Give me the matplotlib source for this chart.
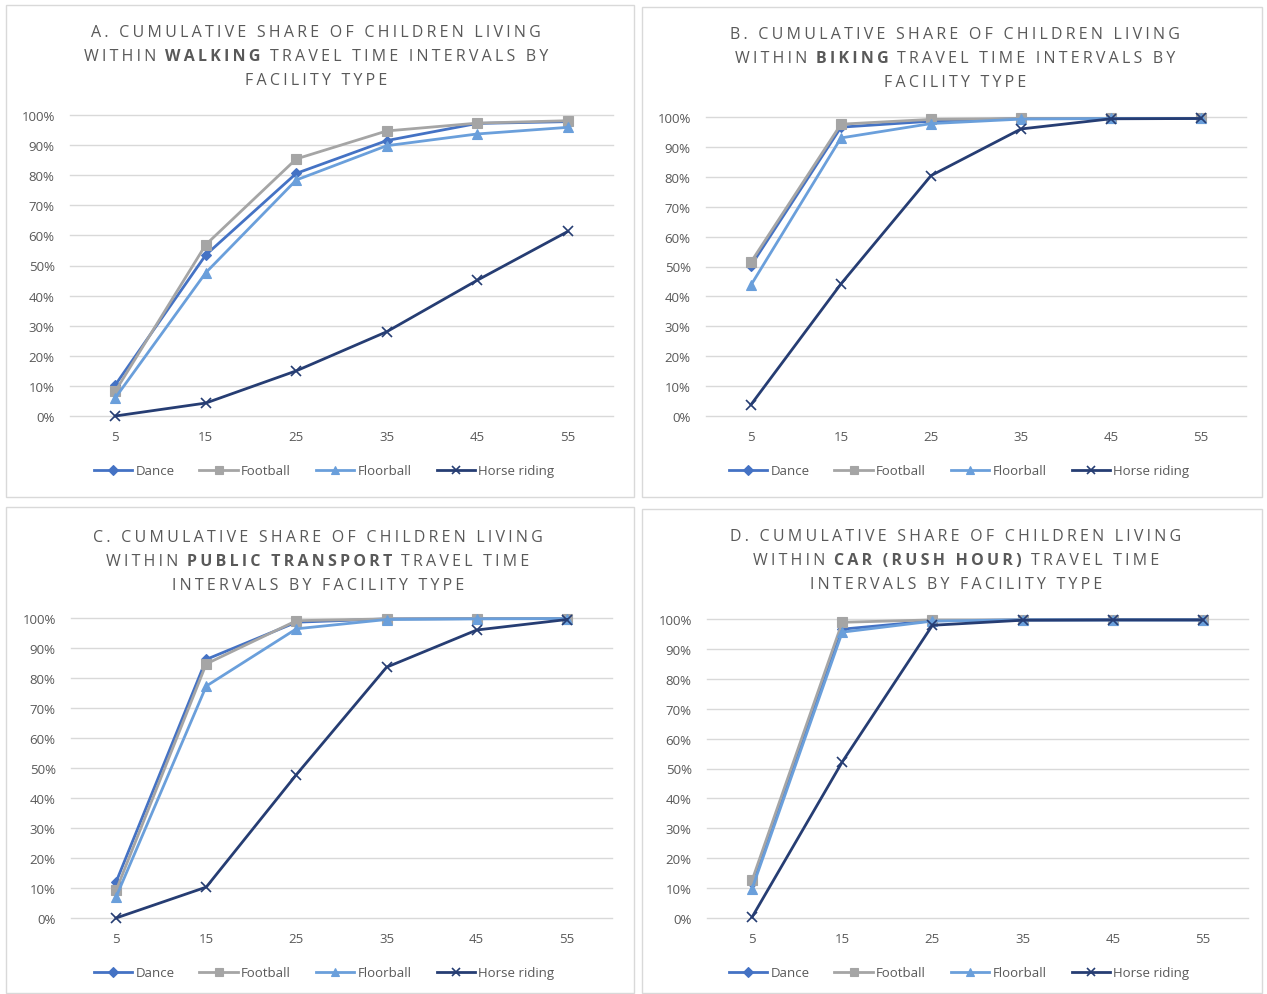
import matplotlib
matplotlib.use("Agg")
import matplotlib.pyplot as plt
from matplotlib.patches import Rectangle
from matplotlib.offsetbox import TextArea, HPacker, DrawingArea, AnchoredOffsetbox

# ---- data -----------------------------------------------------------------
travel_time = ["5", "15", "25", "35", "45", "55"]
series_names = ["Dance", "Football", "Floorball", "Horse riding"]

walk_dance = [10.3, 53.5, 80.6, 91.5, 97.2, 97.8]
walk_football = [8.2, 56.9, 85.4, 94.7, 97.3, 98.1]
walk_floorball = [6.0, 47.6, 78.4, 89.8, 93.7, 95.9]
walk_horse = [0.0, 4.3, 15.0, 28.0, 45.1, 61.3]

bike_dance = [50.3, 96.6, 98.6, 99.5, 99.5, 99.5]
bike_football = [51.5, 97.6, 99.2, 99.5, 99.5, 99.5]
bike_floorball = [43.8, 93.0, 97.8, 99.3, 99.5, 99.5]
bike_horse = [3.8, 44.2, 80.4, 96.0, 99.4, 99.5]

pt_dance = [12.0, 86.2, 98.6, 99.7, 99.8, 99.8]
pt_football = [9.2, 84.7, 99.1, 99.7, 99.8, 99.8]
pt_floorball = [7.0, 77.3, 96.4, 99.5, 99.7, 99.8]
pt_horse = [0.0, 10.3, 47.8, 83.6, 96.0, 99.5]

car_dance = [11.6, 96.6, 99.4, 99.7, 99.7, 99.7]
car_football = [12.6, 98.9, 99.7, 99.7, 99.7, 99.7]
car_floorball = [9.8, 95.6, 99.3, 99.7, 99.7, 99.7]
car_horse = [0.3, 52.2, 97.9, 99.6, 99.7, 99.7]

y_ticks = [0, 10, 20, 30, 40, 50, 60, 70, 80, 90, 100]

# ---- styling --------------------------------------------------------------
W, H = 1267, 995
FAMILY = ["Open Sans", "DejaVu Sans"]
TEXT_GREY = "#595959"
GRID_GREY = "#D9D9D9"
colors = ["#4472C4", "#A5A5A5", "#6A9FDB", "#263D73"]
markers = ["D", "s", "^", "x"]
msizes = [5.5, 7, 7, 7.5]

plt.rcParams["font.family"] = FAMILY

fig = plt.figure(figsize=(W / 100, H / 100), dpi=100)
fig.patch.set_facecolor("white")


def fx(x):
    return x / W


def fy(y):
    return 1 - y / H


panels = [
    dict(frame=(6, 6, 634, 498), plot=(70, 116, 613, 417),
         title=[("A. CUMULATIVE SHARE OF CHILDREN LIVING", None, None),
                ("WITHIN", "WALKING", "TRAVEL TIME INTERVALS BY"),
                ("FACILITY TYPE", None, None)],
         title_x=316, title_y=33, legend=(324, 472),
         data=[walk_dance, walk_football, walk_floorball, walk_horse]),
    dict(frame=(642, 8, 1262, 498), plot=(706, 118, 1246, 417),
         title=[("B. CUMULATIVE SHARE OF CHILDREN LIVING", None, None),
                ("WITHIN", "BIKING", "TRAVEL TIME INTERVALS BY"),
                ("FACILITY TYPE", None, None)],
         title_x=955, title_y=35, legend=(959, 472),
         data=[bike_dance, bike_football, bike_floorball, bike_horse]),
    dict(frame=(6, 508, 634, 994), plot=(71, 619, 612, 919),
         title=[("C. CUMULATIVE SHARE OF CHILDREN LIVING", None, None),
                ("WITHIN", "PUBLIC TRANSPORT", "TRAVEL TIME"),
                ("INTERVALS BY FACILITY TYPE", None, None)],
         title_x=318, title_y=538, legend=(324, 974),
         data=[pt_dance, pt_football, pt_floorball, pt_horse]),
    dict(frame=(642, 510, 1262, 994), plot=(707, 620, 1248, 919),
         title=[("D. CUMULATIVE SHARE OF CHILDREN LIVING", None, None),
                ("WITHIN", "CAR (RUSH HOUR)", "TRAVEL TIME"),
                ("INTERVALS BY FACILITY TYPE", None, None)],
         title_x=956, title_y=537, legend=(959, 974),
         data=[car_dance, car_football, car_floorball, car_horse]),
]

HS = "\u200a\u200a"
TITLE_SIZE = 11.5


def spaced(s):
    return HS.join(s)


def title_line(fig, parts, x, y):
    normal, bold, rest = parts
    props = dict(fontsize=TITLE_SIZE, color=TEXT_GREY, family=FAMILY)
    if bold is None:
        box = TextArea(spaced(normal), textprops=props)
    else:
        gap = TITLE_SIZE * 0.55
        children = [
            TextArea(spaced(normal), textprops=props),
            DrawingArea(gap, 1),
            TextArea(spaced(bold), textprops=dict(props, fontweight="bold")),
            DrawingArea(gap, 1),
            TextArea(spaced(rest), textprops=props),
        ]
        box = HPacker(children=children, sep=0, pad=0, align="baseline")
    anch = AnchoredOffsetbox(loc="center", child=box, pad=0, borderpad=0,
                             frameon=False, bbox_to_anchor=(fx(x), fy(y)),
                             bbox_transform=fig.transFigure)
    fig.add_artist(anch)


for p in panels:
    x0, y0, x1, y1 = p["frame"]
    fig.add_artist(Rectangle((fx(x0), fy(y1)), fx(x1) - fx(x0), fy(y0) - fy(y1),
                             transform=fig.transFigure, facecolor="white",
                             edgecolor=GRID_GREY, linewidth=1.0, zorder=0))

    l, t, r, b = p["plot"]
    ax = fig.add_axes([fx(l), fy(b), fx(r) - fx(l), fy(t) - fy(b)])
    ax.set_facecolor("none")
    xs = list(range(len(travel_time)))
    handles = []
    for vals, c, m, ms, name in zip(p["data"], colors, markers, msizes, series_names):
        mew = 1.2 if m == "x" else 0.8
        h, = ax.plot(xs, vals, color=c, linewidth=2.0, marker=m, markersize=ms,
                     markeredgewidth=mew, markerfacecolor=c, markeredgecolor=c,
                     label=name, zorder=3, solid_joinstyle="round", clip_on=False)
        handles.append(h)

    ax.set_xlim(-0.5, len(travel_time) - 0.5)
    ax.set_ylim(0, 100)
    ax.set_xticks(xs)
    ax.set_xticklabels(travel_time)
    ax.set_yticks(y_ticks)
    ax.set_yticklabels([f"{v}%" for v in y_ticks])
    ax.tick_params(axis="both", length=0, labelsize=9.5, labelcolor=TEXT_GREY)
    ax.tick_params(axis="x", pad=10)
    ax.tick_params(axis="y", pad=11)
    for s in ax.spines.values():
        s.set_visible(False)
    ax.grid(axis="y", color=GRID_GREY, linewidth=1.0)
    for gl in ax.yaxis.get_gridlines():
        gl.set_clip_on(False)
    ax.set_axisbelow(True)

    for i, parts in enumerate(p["title"]):
        title_line(fig, parts, p["title_x"], p["title_y"] + 24 * i)

    lx, ly = p["legend"]
    fig.legend(handles=handles, labels=series_names, loc="center",
               bbox_to_anchor=(fx(lx), fy(ly)), ncol=4, frameon=False,
               fontsize=9.5, labelcolor=TEXT_GREY, handlelength=2.9,
               handletextpad=0.25, columnspacing=1.9, borderaxespad=0,
               markerscale=0.85)

fig.savefig("out.png", dpi=100, facecolor="white")
